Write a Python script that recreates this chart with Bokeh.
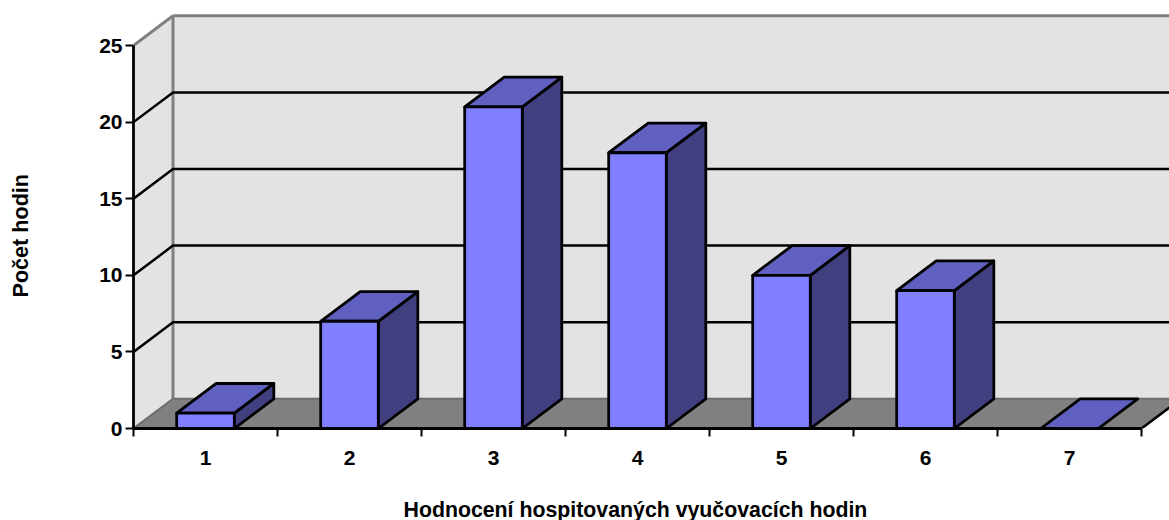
from bokeh.plotting import figure
from bokeh.models import Range1d, FixedTicker, ColumnDataSource, Title
from bokeh.embed import file_html
from bokeh.resources import INLINE

categories = ["1", "2", "3", "4", "5", "6", "7"]
hodnoty = [1, 7, 21, 18, 10, 9, 0]
y_ticks = [0, 5, 10, 15, 20, 25]
x_title = "Hodnocení hospitovaných vyučovacích hodin"
y_title = "Počet hodin"

FONT = "Liberation Sans"
SIZE = "21px"
Y_MAX = 25
N = len(categories)
PX_X = 144
PX_Y = 15.32
DX = 39.5 / PX_X    # 3D depth, x units
DY = 29.7 / PX_Y    # 3D depth, y units
BAR = 0.4
XMAX = 1036 / PX_X
YMAX = 428 / PX_Y

p = figure(width=1169, height=520, frame_width=1036, frame_height=428,
           x_range=Range1d(0, XMAX), y_range=Range1d(0, YMAX),
           output_backend="svg", toolbar_location=None,
           min_border_left=133, min_border_right=0, min_border_top=0, min_border_bottom=92)
p.background_fill_color = "white"
p.outline_line_color = None
p.grid.visible = False

# walls and floor
far = N + 2
p.patch([DX, far, far, DX], [DY, DY, Y_MAX + DY, Y_MAX + DY], fill_color="#e3e3e3", line_color=None)
p.patch([0, DX, DX, 0], [0, DY, Y_MAX + DY, Y_MAX], fill_color="#e3e3e3", line_color=None)
p.patch([0, N, N + DX, far, far, DX], [0, 0, DY, DY, DY, DY], fill_color="#808080", line_color=None)

GRAY = "#808080"
p.line([DX, far], [Y_MAX + DY, Y_MAX + DY], line_color=GRAY, line_width=3)
p.line([DX, DX], [DY, Y_MAX + DY], line_color=GRAY, line_width=3)
p.line([0, DX], [Y_MAX, Y_MAX + DY], line_color=GRAY, line_width=3)
p.line([0, DX], [0, DY], line_color="#6e6e6e", line_width=2)
p.line([DX, far], [DY, DY], line_color="#6e6e6e", line_width=2)
p.line([N, N + DX], [0, DY], line_color="black", line_width=2.5)

# gridlines
for t in y_ticks[1:-1]:
    p.line([0, DX, far], [t, t + DY, t + DY], line_color="black", line_width=2.5)

# bars
idx = list(range(N))
left = [i + 0.5 - BAR / 2 for i in idx]
right = [i + 0.5 + BAR / 2 for i in idx]
front = ColumnDataSource(dict(left=left[:-1], right=right[:-1], top=hodnoty[:-1], bottom=[0] * (N - 1)))
side_x = [[r, r + DX, r + DX, r] for r in right]
side_y = [[0, DY, v + DY, v] for v in hodnoty]
top_x = [[l, r, r + DX, l + DX] for l, r in zip(left, right)]
top_y = [[v, v, v + DY, v + DY] for v in hodnoty]
p.patches(side_x[:-1], side_y[:-1], fill_color="#404080", line_color="black", line_width=2.8, line_join="round")
p.patches(top_x, top_y, fill_color="#6060c0", line_color="black", line_width=2.8, line_join="round")
p.quad(left="left", right="right", top="top", bottom="bottom", source=front,
       fill_color="#8080ff", line_color="black", line_width=2.8)

# axes
xa = p.xaxis[0]
xa.bounds = (0, N)
xa.ticker = FixedTicker(ticks=[i + 0.5 for i in idx], minor_ticks=list(range(N + 1)))
xa.major_label_overrides = {i + 0.5: c for i, c in enumerate(categories)}
xa.major_tick_line_color = None
xa.major_tick_in = 0
xa.major_tick_out = 8
xa.minor_tick_in = 0
xa.minor_tick_out = 8
xa.minor_tick_line_color = "black"
xa.minor_tick_line_width = 2
xa.axis_line_color = "black"
xa.axis_line_width = 2.8
xa.major_label_standoff = 14
xa.major_label_text_font = FONT
xa.major_label_text_font_style = "bold"
xa.major_label_text_font_size = SIZE
xa.major_label_text_color = "black"

ya = p.yaxis[0]
ya.bounds = (0, Y_MAX)
ya.ticker = FixedTicker(ticks=y_ticks)
ya.minor_tick_line_color = None
ya.major_tick_in = 0
ya.major_tick_out = 8
ya.major_tick_line_color = "black"
ya.major_tick_line_width = 2
ya.axis_line_color = "black"
ya.axis_line_width = 2.8
ya.major_label_standoff = 3
ya.major_label_text_font = FONT
ya.major_label_text_font_style = "bold"
ya.major_label_text_font_size = SIZE
ya.major_label_text_color = "black"

# blank titles only push the real titles away from the frame
p.add_layout(Title(text="\u00a0", text_font_size="10px", standoff=15), "below")
p.add_layout(Title(text="\u00a0", text_font_size="10px", standoff=51), "left")

# axis titles: off-centre relative to the plot frame, as in the reference
p.add_layout(Title(text=x_title, align="left", offset=270, standoff=0,
                   text_font=FONT, text_font_style="bold", text_font_size="21.3px",
                   text_color="black"), "below")
p.add_layout(Title(text=y_title, align="left", offset=131, standoff=0,
                   text_font=FONT, text_font_style="bold", text_font_size="21.6px",
                   text_color="black"), "left")

open("out.html", "w").write(file_html(p, INLINE))
